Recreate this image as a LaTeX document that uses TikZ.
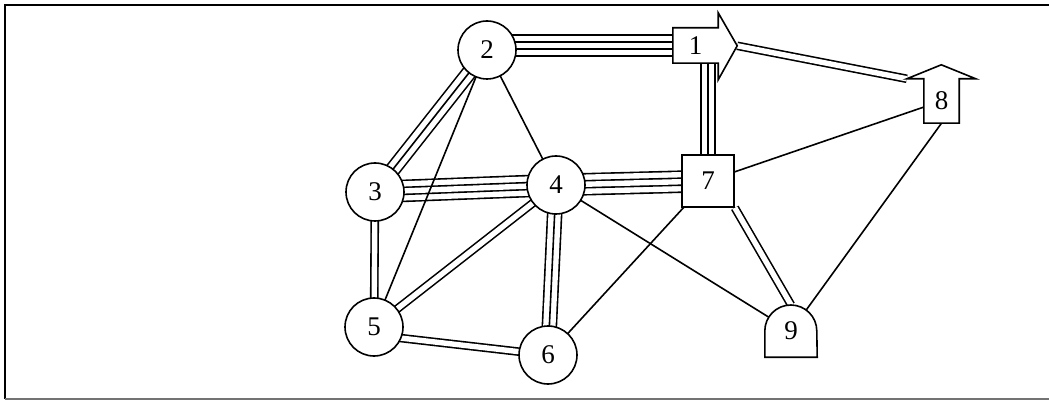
\documentclass[tikz,border=0pt]{standalone}
\usepackage{fontspec}
\setmainfont{Liberation Serif}
\usepackage{tikz}
\pgfdeclarelayer{edges}
\pgfdeclarelayer{shapes}
\pgfsetlayers{edges,shapes,main}
\tikzstyle{place}=[circle,draw,fill=white,line width=1.6pt,minimum size=58pt,inner sep=0pt,font=\fontsize{27}{27}\selectfont]
\tikzstyle{square place}=[rectangle,draw,fill=white,line width=1.6pt,minimum size=52pt,inner sep=0pt,font=\fontsize{27}{27}\selectfont]
\tikzstyle{bare place}=[rectangle,inner sep=0pt,font=\fontsize{27}{27}\selectfont]
\tikzstyle{outline}=[draw,fill=white,line width=1.6pt,line join=miter]
\tikzstyle{edge} = [draw,line width=1.6pt,-]
\tikzstyle{double edge} = [draw,line width=8.6pt,postaction={draw=white,line width=5.4pt}]
\tikzstyle{triple edge} = [draw,line width=15.6pt,postaction={draw=white,line width=12.4pt},postaction={draw=black,line width=1.6pt}]
\tikzstyle{quad edge} = [draw,line width=22.6pt,postaction={draw=white,line width=19.4pt},postaction={draw=black,line width=8.6pt},postaction={draw=white,line width=5.4pt}]

\begin{document}
\begin{tikzpicture}[x=1pt,y=-1pt]
        \useasboundingbox (0,0) rectangle (1049,403);
        % frame, open on the right
        \draw[line width=1.6pt] (1049,5) -- (5,5) -- (5,399);
        \draw[line width=1.6pt,black!55] (5,399) -- (1049,399);

        \node[place] (n2) at (487,50) {2};
        \node[place] (n3) at (375,192) {3};
        \node[place] (n4) at (556,185) {4};
        \node[place] (n5) at (374,327) {5};
        \node[place] (n6) at (548,355) {6};
        \node[square place] (n7) at (708,181) {7};
        \node[bare place,minimum width=45pt,minimum height=35pt] (n1) at (695.5,45.5) {1};
        \node[bare place,minimum width=35pt,minimum height=44pt] (n8) at (941.5,101) {8};
        \node[bare place,minimum size=52pt] (n9) at (791,331) {9};

        \begin{pgfonlayer}{shapes}
        % block arrow to the right, block arrow upwards, dome
        \draw[outline] (n1.north west) -- (n1.north east) -- ++(0,-15) -- ++(19,33) coordinate (tip1)
                -- ++(-19,34) -- (n1.south east) -- (n1.south west) -- cycle;
        \draw[outline] (n8.south west) -- (n8.north west) -- ++(-17,0) coordinate (barb8)
                -- ++(34.5,-14) -- ++(34.5,14) -- (n8.north east) -- (n8.south east) -- cycle;
        \draw[outline] (n9.south west) -- (n9.west) arc[start angle=180,end angle=0,radius=26pt]
                -- (n9.south east) -- cycle;
        \end{pgfonlayer}

        \begin{pgfonlayer}{edges}
        \draw[quad edge] (n2 |- n1) to (n1.center);
        \draw[quad edge] (n3.center) to (n4.center);
        \draw[quad edge] (n4.center) to (n7.center);
        \draw[triple edge] (n2.center) to (n3.center);
        \draw[triple edge] (n4.center) to (n6.center);
        \draw[triple edge] (n7.center) to (n7 |- n1);
        \draw[double edge] (tip1) to (barb8);
        \draw[double edge] (n3.center) to (n5.center);
        \draw[double edge] (n4.center) to (n5.center);
        \draw[double edge] ([yshift=-8pt]n5.center) to (n6.center);
        \draw[double edge] (n7.south east) to (n9.north);
        \draw[edge] (n2.center) to (n4.center);
        \draw[edge] (n2.center) to (n5.center);
        \draw[edge] (n4.center) to (n9.center);
        \draw[edge] (n7.center) to (n6.center);
        \draw[edge] (n7.center) to (n8.center);
        \draw[edge] (n8.south) to (n9.center);
        \end{pgfonlayer}
      \end{tikzpicture}
\end{document}
